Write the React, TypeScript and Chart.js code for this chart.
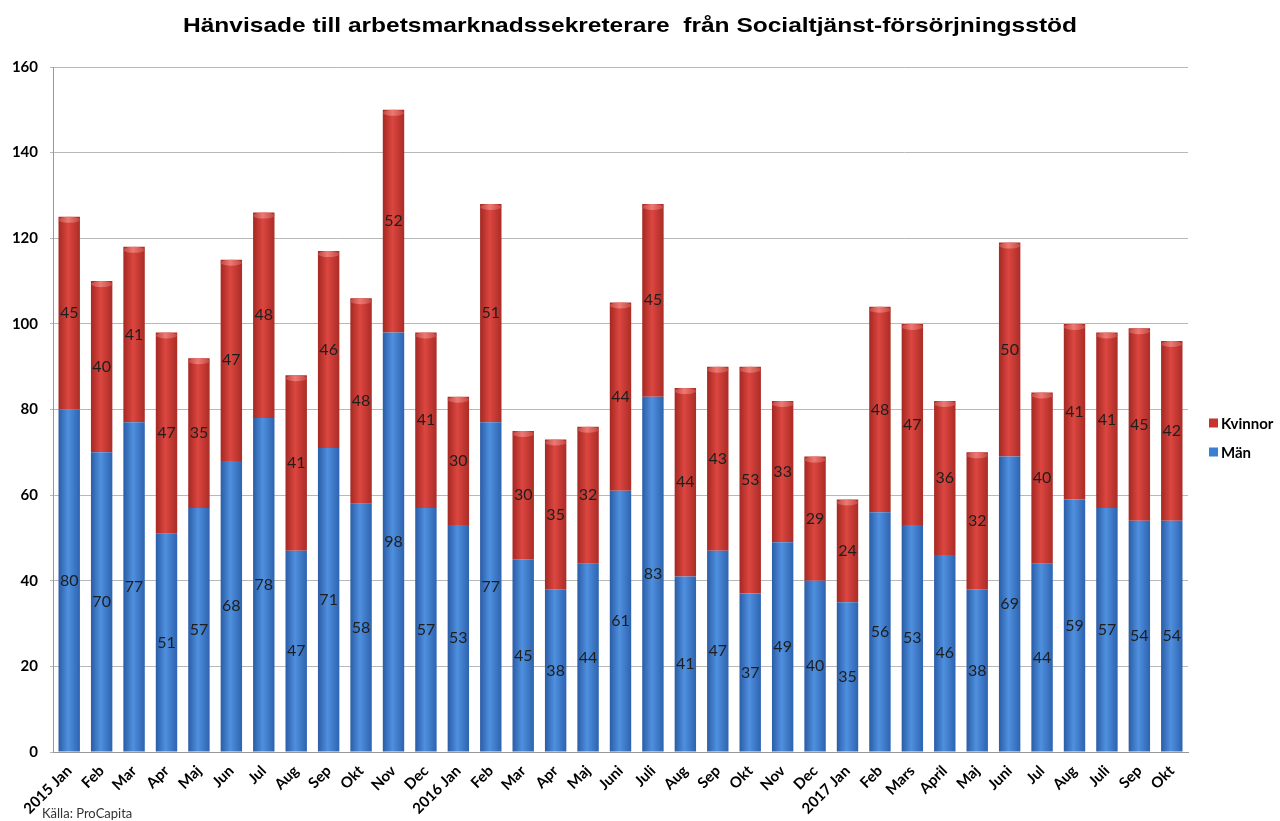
import React, { useEffect, useRef } from "react";
import { Chart, registerables } from "chart.js";

Chart.register(...registerables);

const TITLE = "Hänvisade till arbetsmarknadssekreterare  från Socialtjänst-försörjningsstöd";
const SOURCE = "Källa: ProCapita";

const categories = [
  "2015 Jan", "Feb", "Mar", "Apr", "Maj", "Jun", "Jul", "Aug", "Sep", "Okt", "Nov", "Dec",
  "2016 Jan", "Feb", "Mar", "Apr", "Maj", "Juni", "Juli", "Aug", "Sep", "Okt", "Nov", "Dec",
  "2017 Jan", "Feb", "Mars", "April", "Maj", "Juni", "Jul", "Aug", "Juli", "Sep", "Okt",
];

const man = [
  80, 70, 77, 51, 57, 68, 78, 47, 71, 58, 98, 57,
  53, 77, 45, 38, 44, 61, 83, 41, 47, 37, 49, 40,
  35, 56, 53, 46, 38, 69, 44, 59, 57, 54, 54,
];

const kvinnor = [
  45, 40, 41, 47, 35, 47, 48, 41, 46, 48, 52, 41,
  30, 51, 30, 35, 32, 44, 45, 44, 43, 53, 33, 29,
  24, 48, 47, 36, 32, 50, 40, 41, 41, 45, 42,
];

const yTicks = [0, 20, 40, 60, 80, 100, 120, 140, 160];

const BAR_PCT = 0.66;

function barGradient(ctx: any, stops: string[]) {
  const chart = ctx.chart;
  const xs = chart.scales && chart.scales.x;
  if (!xs || !chart.chartArea) return stops[1];
  const cx = xs.getPixelForValue(ctx.dataIndex);
  const cw = (xs.right - xs.left) / categories.length;
  const w = cw * BAR_PCT;
  const g = chart.ctx.createLinearGradient(cx - w / 2, 0, cx + w / 2, 0);
  g.addColorStop(0, stops[0]);
  g.addColorStop(0.45, stops[1]);
  g.addColorStop(1, stops[2]);
  return g;
}

const overlayPlugin = {
  id: "overlay",
  afterDatasetsDraw(chart: any) {
    const c = chart.ctx;
    c.save();
    // cylinder caps on the top segment
    const topMeta = chart.getDatasetMeta(1);
    topMeta.data.forEach((el: any) => {
      const w = el.width;
      const g = c.createLinearGradient(el.x - w / 2, 0, el.x + w / 2, 0);
      g.addColorStop(0, "#c2453f");
      g.addColorStop(0.45, "#ec7a74");
      g.addColorStop(1, "#c4463f");
      c.fillStyle = g;
      c.beginPath();
      c.ellipse(el.x, el.y + 3, w / 2, 3, 0, 0, Math.PI * 2);
      c.fill();
    });
    c.font = "16px Lato";
    c.fillStyle = "#1e1e1e";
    c.textAlign = "center";
    c.textBaseline = "middle";
    chart.data.datasets.forEach((ds: any, di: number) => {
      const meta = chart.getDatasetMeta(di);
      meta.data.forEach((el: any, i: number) => {
        const y = (el.y + el.base) / 2;
        c.fillText(String(ds.data[i]), el.x, y);
      });
    });
    c.restore();
  },
  afterDraw(chart: any) {
    const c = chart.ctx;
    c.save();
    // title (horizontally stretched like the reference)
    c.font = "bold 21px 'Liberation Sans'";
    c.fillStyle = "#000";
    c.textAlign = "center";
    c.textBaseline = "alphabetic";
    const tw = c.measureText(TITLE).width;
    const sx = 894 / tw;
    c.translate(630, 32);
    c.scale(sx, 1);
    c.fillText(TITLE, 0, 0);
    c.setTransform(chart.currentDevicePixelRatio, 0, 0, chart.currentDevicePixelRatio, 0, 0);
    // legend
    const items = [
      { label: "Kvinnor", color: "#c8322c", y: 423 },
      { label: "Män", color: "#3b7fd0", y: 452 },
    ];
    c.font = "bold 15px Lato";
    c.textAlign = "left";
    c.textBaseline = "middle";
    items.forEach((it) => {
      c.fillStyle = it.color;
      c.fillRect(1209, it.y - 4.5, 9, 9);
      c.fillStyle = "#000";
      c.fillText(it.label, 1221, it.y + 1);
    });
    // source
    c.font = "13px Lato";
    c.fillStyle = "#333";
    c.fillText(SOURCE, 42, 814);
    c.restore();
  },
};

export default function App() {
  const ref = useRef<HTMLCanvasElement | null>(null);
  useEffect(() => {
    if (!ref.current) return;
    const chart = new Chart(ref.current, {
      type: "bar",
      data: {
        labels: categories,
        datasets: [
          {
            label: "Män",
            data: man,
            backgroundColor: (ctx: any) => barGradient(ctx, ["#2a5ca6", "#4f90de", "#2d63b0"]),
            borderWidth: 0,
            categoryPercentage: 1,
            barPercentage: BAR_PCT,
          },
          {
            label: "Kvinnor",
            data: kvinnor,
            backgroundColor: (ctx: any) => barGradient(ctx, ["#a42822", "#dc4640", "#ab2c26"]),
            borderWidth: 0,
            categoryPercentage: 1,
            barPercentage: BAR_PCT,
          },
        ],
      },
      options: {
        animation: false,
        responsive: true,
        maintainAspectRatio: false,
        layout: { padding: { top: 67, right: 92, left: 0, bottom: 0 } },
        plugins: {
          legend: { display: false },
          title: { display: false },
          tooltip: { enabled: false },
        },
        scales: {
          x: {
            stacked: true,
            grid: { display: false },
            border: { color: "#999" },
            ticks: {
              maxRotation: 45,
              minRotation: 45,
              autoSkip: false,
              color: "#000",
              font: { family: "Lato", size: 15, weight: "bold" },
              padding: 2,
            },
            afterFit: (s: any) => {
              s.height = 69;
            },
          },
          y: {
            stacked: true,
            min: 0,
            max: 160,
            afterBuildTicks: (s: any) => {
              s.ticks = yTicks.map((v) => ({ value: v }));
            },
            grid: { color: "#b8b8b8", drawTicks: true, tickLength: 3 },
            border: { color: "#999" },
            ticks: {
              color: "#000",
              font: { family: "Lato", size: 15, weight: "bold" },
              padding: 12,
            },
            afterFit: (s: any) => {
              s.width = 53;
            },
          },
        },
      },
      plugins: [overlayPlugin],
    });
    return () => chart.destroy();
  }, []);
  return (
    <div style={{ position: "fixed", left: 0, top: 0, width: 1280, height: 821, background: "#fff" }}>
      <canvas ref={ref} />
    </div>
  );
}
